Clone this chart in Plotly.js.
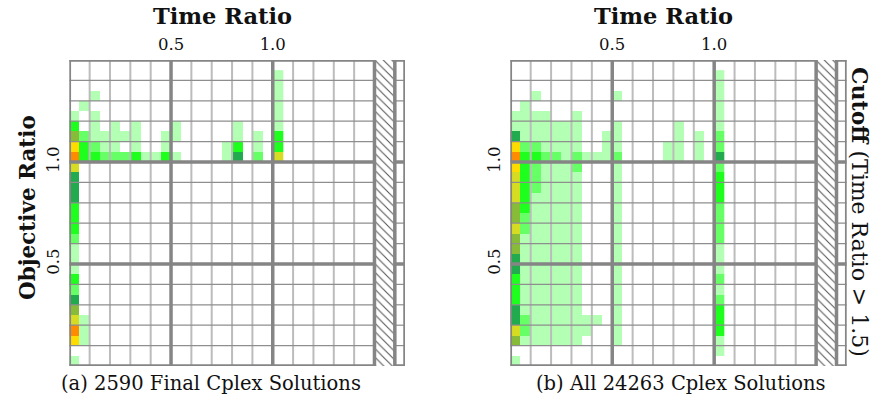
<!DOCTYPE html>
<html><head><meta charset="utf-8">
<script src="https://cdn.plot.ly/plotly-3.0.1.min.js"></script>
<style>html,body{margin:0;padding:0;background:#fff;}#chart{width:875px;height:404px;}</style>
</head><body><div id="chart"></div>
<script>
// ---- data ----
const binSize = 0.05;          // width/height of one histogram bin
const timeCutoff = 1.5;        // time ratio cutoff
const cutoffBandWidth = 0.1;   // hatched cutoff band
const xMax = 1.65;
const yMax = 1.5;
const tickVals = [0.5, 1.0];
const tickText = ["0.5", "1.0"];
// density levels 1..8 (light -> dense)
const levelColors = ["#b3ffb3", "#66ff66", "#1eff1e", "#22aa4f", "#88bb38", "#d5dc22", "#ffdc00", "#ff8c00"];
// rows from objective ratio 0.00-0.05 (first) upwards; columns time ratio 0.00-0.05 ... 1.00-1.05
const finalRows = [
  "1....................",
  ".....................",
  "71...................",
  "81...................",
  "61...................",
  "5....................",
  "4....................",
  "2....................",
  "3....................",
  "1....................",
  "1....................",
  "1....................",
  "2....................",
  "3....................",
  "3....................",
  "3....................",
  "4....................",
  "4....................",
  "4....................",
  "6....................",
  "83322231131....14.2.6",
  "73211.1..1.....13.1.3",
  "5211111..11.....1.1.3",
  "3.1.1.1...1.....1...1",
  "1.1.................1",
  ".1..................1",
  "..1.................1",
  "....................1",
  "....................1"
];
const allRows = [
  "1....................",
  "....................1",
  "5111111...1.........1",
  "62111111..1.........3",
  "421111111.1.........3",
  "4111111...1.........3",
  "3111111...1.........2",
  "3111111...1.........1",
  "3111111...1.........2",
  "4111111...1.........1",
  "4111111...1.........1",
  "5111111...1.........1",
  "5111111...1.........2",
  "6211111...1.........2",
  "5211111...1.........2",
  "5311111...1.........2",
  "6311111...1.........3",
  "6321111...1.........3",
  "6321111...1.........3",
  "7321112...1.........2",
  "83322121112....11.1.4",
  "7221111..11....11.1.2",
  "4111111..11.....1.1.2",
  "1111111...1.....1...1",
  "1111..1.............1",
  ".1..................1",
  "..1.......1.........1",
  "....................1",
  "....................1"
];
const xTitle = "Time Ratio";
const yTitle = "Objective Ratio";
const cutoffLabel = "<b>Cutoff</b> (Time Ratio &gt; 1.5)";
const captions = ["(a) 2590 Final Cplex Solutions", "(b) All 24263 Cplex Solutions"];

// ---- build ----
const W = 875, H = 404;
const SERIF = "DejaVu Serif, Liberation Serif, serif";
function toZ(rows) { return rows.map(r => r.split("").map(c => c === "." ? null : Number(c))); }
function centers(n) { const a = []; for (let i = 0; i < n; i++) a.push(binSize * (i + 0.5)); return a; }
const scale = [];
levelColors.forEach((c, k) => { scale.push([k / 8, c]); scale.push([(k + 1) / 8, c]); });

function heat(rows, xa, ya) {
  return { type: "heatmap", z: toZ(rows), x: centers(rows[0].length), y: centers(rows.length),
    xaxis: xa, yaxis: ya, colorscale: scale, zmin: 0.5, zmax: 8.5, showscale: false, hoverinfo: "skip", zsmooth: false };
}
function hatch(xa, ya) {
  return { type: "bar", x: [timeCutoff + cutoffBandWidth / 2], y: [yMax], width: [cutoffBandWidth], base: 0,
    xaxis: xa, yaxis: ya, hoverinfo: "skip", showlegend: false,
    marker: { color: "#ffffff", line: { width: 0 }, pattern: { shape: "\\", fgcolor: "#555", bgcolor: "#ffffff", size: 6, solidity: 0.18 } } };
}
function gridShapes(xr, yr) {
  const thinV = [], thinH = [], thick = [];
  const thickCol = "#858585";
  for (let k = 0; k <= 16; k++) {
    const xv = k / 10;
    const isThick = (k % 5 === 0) || k === 16;
    const s = { type: "line", xref: xr, yref: yr, x0: xv, x1: xv, y0: 0, y1: yMax, layer: "above",
      line: isThick ? { color: thickCol, width: 3.5 } : { color: "#bcbcbc", width: 2 } };
    (isThick ? thick : thinV).push(s);
  }
  thick.push({ type: "line", xref: xr, yref: yr, x0: xMax, x1: xMax, y0: 0, y1: yMax, layer: "above", line: { color: thickCol, width: 3.5 } });
  for (let k = 0; k <= 15; k++) {
    const yv = k / 10;
    const isThick = k % 5 === 0;
    const ln = isThick ? { color: thickCol, width: 3.5 } : { color: "#8e8e8e", width: 1.2 };
    const segs = [[0, timeCutoff], [timeCutoff + cutoffBandWidth, xMax]];
    segs.forEach(sg => {
      const s = { type: "line", xref: xr, yref: yr, x0: sg[0], x1: sg[1], y0: yv, y1: yv, layer: "above", line: ln };
      (isThick ? thick : thinH).push(s);
    });
  }
  return thinV.concat(thinH, thick);
}

const yDom = [1 - 366 / H, 1 - 60 / H];
const axX = (dom) => ({ domain: dom, range: [0, xMax], side: "top", tickvals: tickVals, ticktext: tickText,
  showgrid: false, zeroline: false, showline: false, ticks: "outside", ticklen: 2, tickcolor: "rgba(0,0,0,0)",
  tickfont: { family: SERIF, size: 16.5, color: "#111" }, fixedrange: true });
const axY = (anchor) => ({ domain: yDom, range: [0, yMax], anchor: anchor, tickvals: tickVals, ticktext: tickText,
  tickangle: -90, showgrid: false, zeroline: false, showline: false, ticks: "outside", ticklen: 3, tickcolor: "rgba(0,0,0,0)",
  tickfont: { family: SERIF, size: 16.5, color: "#111" }, fixedrange: true });

const ann = (txt, px, py, size, angle) => ({ text: txt, x: px / W, y: 1 - py / H, xref: "paper", yref: "paper",
  xanchor: "center", yanchor: "middle", showarrow: false, textangle: angle || 0, font: { family: SERIF, size: size, color: "#111" } });

const layout = {
  width: W, height: H, margin: { l: 0, r: 0, t: 0, b: 0 }, paper_bgcolor: "#fff", plot_bgcolor: "#fff",
  showlegend: false, bargap: 0,
  xaxis: Object.assign(axX([69.3 / W, 405 / W]), { anchor: "y" }),
  yaxis: axY("x"),
  xaxis2: Object.assign(axX([510.3 / W, 846.7 / W]), { anchor: "y2" }),
  yaxis2: axY("x2"),
  shapes: gridShapes("x", "y").concat(gridShapes("x2", "y2")),
  annotations: [
    ann("<b>" + xTitle + "</b>", 222, 16, 22.5),
    ann("<b>" + xTitle + "</b>", 663, 16, 22.5),
    ann("<b>" + yTitle + "</b>", 27, 208, 21.5, -90),
    ann(cutoffLabel, 860, 212, 22, 90),
    ann(captions[0], 211, 383, 19.5),
    ann(captions[1], 681, 383, 19.5)
  ]
};
const data = [hatch("x", "y"), heat(finalRows, "x", "y"), hatch("x2", "y2"), heat(allRows, "x2", "y2")];
Plotly.newPlot("chart", data, layout, { staticPlot: true, displayModeBar: false });
</script></body></html>
